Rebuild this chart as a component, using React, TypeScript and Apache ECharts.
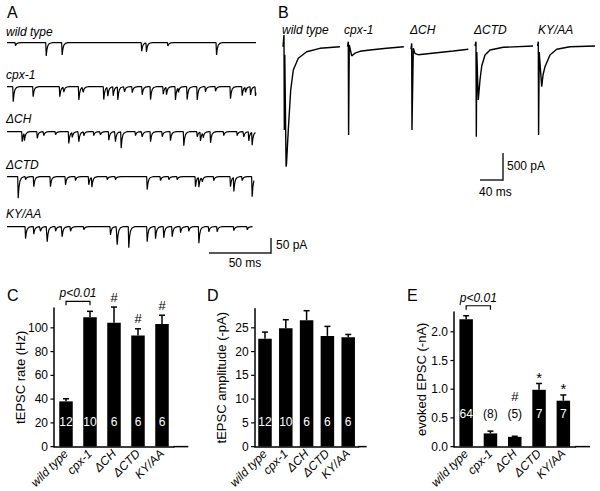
import React, { useEffect, useRef } from "react";
import * as echarts from "echarts";

const FONT = "'Liberation Sans', Arial, Helvetica, sans-serif";

const genotypes = ["wild type", "cpx-1", "ΔCH", "ΔCTD", "KY/AA"];

// ---- Panel A: spontaneous tEPSC events [time ms, amplitude pA]
const wtMinis = [[6.4, 10], [31.1, 44], [43.9, 41], [107.8, 28], [111.6, 30], [128.8, 11], [167.9, 41]];
const cpxMinis = [[4.6, 50], [20.6, 33], [42.0, 33], [45.2, 17], [57.3, 44], [60.8, 17], [77.3, 43], [80.6, 30], [84.9, 30], [88.6, 43], [94.0, 17], [100.2, 20], [108.2, 27], [114.9, 43], [125.1, 25], [127.7, 25], [134.9, 44], [137.3, 15], [144.3, 43], [152.4, 44], [159.0, 17], [167.1, 15], [179.1, 40], [188.5, 30], [191.2, 17], [195.2, 27], [199.2, 30]];
const dchMinis = [[11.8, 33], [13.6, 25], [23.9, 22], [29.2, 13], [38.6, 10], [49.2, 39], [52.0, 17], [57.3, 33], [61.3, 13], [69.3, 13], [74.7, 10], [81.4, 28], [86.7, 33], [91.3, 55], [102.8, 13], [108.2, 17], [114.9, 33], [124.3, 17], [130.9, 30], [141.6, 47], [152.4, 17], [155.0, 30], [157.2, 17], [163.1, 37], [173.7, 13], [184.5, 13], [189.8, 17], [193.8, 30], [196.5, 43]];
const dctdMinis = [[8.6, 72], [14.5, 10], [21.1, 33], [34.5, 33], [46.6, 27], [54.6, 13], [65.3, 27], [67.8, 33], [80.1, 10], [86.7, 10], [112.2, 43], [122.9, 13], [129.6, 10], [136.3, 10], [151.0, 33], [153.7, 33], [156.4, 15], [165.7, 13], [179.1, 33], [181.8, 47], [188.5, 13], [196.5, 67]];
const kyaaMinis = [[14.5, 40], [21.1, 25], [26.5, 15], [31.9, 50], [38.6, 15], [43.9, 33], [50.6, 15], [61.3, 10], [82.7, 27], [88.1, 60], [97.4, 70], [112.2, 50], [118.9, 40], [125.5, 37], [132.3, 33], [139.0, 20], [145.6, 15], [153.7, 55], [161.7, 17], [168.4, 17], [181.8, 13], [192.5, 10]];
const miniTraceEnds = [200, 200, 200, 198.5, 197.3];

// ---- Panel B: evoked EPSC traces [time ms, current pA]
const wtEvoked = [[0, 0], [1.7, 217], [2.3, -1543], [3.1, -150], [5.4, -2222], [6.2, -2150], [9.2, -1543], [13.4, -802], [17.9, -432], [26.6, -215], [41.2, -93], [64.3, -30], [99, 0]];
const cpxEvoked = [[0, 0], [1.4, 93], [1.9, -1635], [3.1, 31], [7.3, -170], [13, -120], [21.7, -85], [39, -61], [68, -30], [98, 0]];
const dchEvoked = [[0, 0], [1.2, 111], [1.7, -1494], [4, 19], [7, -80], [12.7, -100], [44.7, -63], [73.6, -31], [99.7, 0]];
const dctdEvoked = [[0, 0], [1.7, 80], [2.3, -1680], [3.1, -111], [5.7, -1000], [8.7, -630], [11.7, -370], [17.4, -167], [26.1, -74], [49.2, -24], [101, 0]];
const kyaaEvoked = [[0, 0], [1.4, 80], [1.9, -1648], [3.0, -111], [7.3, -754], [9.6, -537], [13, -383], [21.7, -167], [33.4, -61], [56.5, -13], [100, 0]];

// ---- Panels C, D, E
const rateHz = [38.1, 108.9, 104.2, 93.6, 103.3];
const rateSem = [2.2, 5.0, 13.3, 5.6, 7.3];
const ampPa = [22.7, 24.9, 26.6, 23.3, 23.0];
const ampSem = [1.4, 1.8, 2.0, 2.0, 0.6];
const evokedNa = [2.22, 0.23, 0.17, 0.99, 0.8];
const evokedSem = [0.06, 0.04, 0.01, 0.11, 0.1];
const nCells = ["12", "10", "6", "6", "6"];
const nEvoked = ["64", "(8)", "(5)", "7", "7"];
const rateMarks = ["", "", "#", "#", "#"];
const ampMarks = ["", "", "", "", ""];
const evokedMarks = ["", "", "#", "*", "*"];
const rateTicks = [0, 20, 40, 60, 80, 100];
const ampTicks = [0, 5, 10, 15, 20, 25];
const evokedTicks = [0, 0.5, 1.0, 1.5, 2.0];

// event template (relative time ms, fraction of peak)
const kT = [0, 0.4, 1.0, 1.8, 3.0, 5.0];
const kF = [0, 1, 0.5, 0.2, 0.06, 0];
function kernelAt(dt: number) {
  if (dt <= 0 || dt >= kT[kT.length - 1]) return 0;
  for (let k = 1; k < kT.length; k++) {
    if (dt <= kT[k]) {
      const f = (dt - kT[k - 1]) / (kT[k] - kT[k - 1]);
      return kF[k - 1] + f * (kF[k] - kF[k - 1]);
    }
  }
  return 0;
}
function buildTrace(events: number[][], end: number) {
  const ts = new Set<number>([0, end]);
  events.forEach(([t0]) => kT.forEach((k) => {
    const t = +(t0 + k).toFixed(3);
    if (t >= 0 && t <= end) ts.add(t);
  }));
  return [...ts].sort((a, b) => a - b).map((t) => [t, -events.reduce((s, [t0, a]) => s + a * kernelAt(t - t0), 0)]);
}

type Panel = {
  left: number; top: number; width: number; height: number; max: number; interval: number;
  ticks: number[]; vals: number[]; sem: number[]; n: string[]; marks: string[]; name: string;
  titleX: number; dist: number; fmt: (v: number) => string; bracket: boolean; extendTo: number;
};

const panels: Panel[] = [
  { left: 54, top: 308, width: 120, height: 140, max: 116.7, interval: 20, ticks: rateTicks, vals: rateHz, sem: rateSem, n: nCells, marks: rateMarks, name: "tEPSC rate (Hz)", titleX: 20, dist: 19, fmt: (v) => String(v), bracket: true, extendTo: 188.3 },
  { left: 254.6, top: 308.8, width: 104, height: 139.2, max: 29, interval: 5, ticks: ampTicks, vals: ampPa, sem: ampSem, n: nCells, marks: ampMarks, name: "tEPSC amplitude (-pA)", titleX: 221, dist: 19, fmt: (v) => String(v), bracket: false, extendTo: 366.7 },
  { left: 454, top: 312, width: 121.5, height: 136, max: 2.345, interval: 0.5, ticks: evokedTicks, vals: evokedNa, sem: evokedSem, n: nEvoked, marks: evokedMarks, name: "evoked EPSC (-nA)", titleX: 421, dist: 27, fmt: (v) => v.toFixed(1), bracket: true, extendTo: 590 },
];

function barOption(p: Panel) {
  const series: any[] = [];
  series.push({
    type: "custom", clip: false, z: 4, silent: true,
    data: [0],
    renderItem: (params: any, api: any) => {
      const bottom = api.coord([0, 0])[1];
      const mid = (bottom + api.coord([0, p.max])[1]) / 2;
      return { type: "text", x: p.titleX, y: mid, rotation: Math.PI / 2, style: { text: p.name, align: "center", verticalAlign: "middle", fontSize: 13, fontFamily: FONT, fill: "#000" } };
    },
  });
  series.push({
    type: "bar", barWidth: 13.5,
    itemStyle: { color: "#000" },
    data: p.vals,
    label: {
      show: true, position: "insideBottom", distance: p.dist,
      formatter: (q: any) => (q.value / p.max > 0.3 ? "{w|" : "{b|") + p.n[q.dataIndex] + "}",
      rich: {
        w: { color: "#fff", fontSize: 12, fontFamily: FONT },
        b: { color: "#000", fontSize: 12, fontFamily: FONT },
      },
    },
  });
  series.push({
    type: "custom", clip: false, z: 3,
    data: p.vals.map((v, i) => [i, v, p.sem[i]]),
    renderItem: (params: any, api: any) => {
      const i = api.value(0), v = api.value(1), e = api.value(2);
      const b = api.coord([i, v]);
      const t = api.coord([i, v + e]);
      const zero = api.coord([i, 0]);
      const children: any[] = [
        { type: "line", shape: { x1: b[0], y1: b[1], x2: t[0], y2: t[1] }, style: { stroke: "#000", lineWidth: 1.5 } },
        { type: "line", shape: { x1: t[0] - 3, y1: t[1], x2: t[0] + 3, y2: t[1] }, style: { stroke: "#000", lineWidth: 1.5 } },
      ];
      const mark = p.marks[i];
      if (mark) {
        const labelAbove = v / p.max <= 0.3;
        const y = labelAbove ? zero[1] - p.dist - 6 - 17 : t[1] - (mark === "*" ? 6 : 10);
        children.push({ type: "text", x: t[0], y, style: { text: mark, align: "center", verticalAlign: "middle", fontSize: mark === "*" ? 15 : 13, fontFamily: FONT, fill: "#000" } });
      }
      return { type: "group", children };
    },
  });
  if (p.bracket) {
    series.push({
      type: "custom", clip: false, z: 3,
      data: [[0, 1]],
      renderItem: (params: any, api: any) => {
        const a = api.coord([0, p.vals[0] + p.sem[0]]);
        const c = api.coord([1, p.vals[1] + p.sem[1]]);
        const y = Math.min(a[1], c[1]) - 10;
        return {
          type: "group", children: [
            { type: "polyline", shape: { points: [[a[0], y + 4], [a[0], y], [c[0], y], [c[0], y + 4]] }, style: { stroke: "#000", lineWidth: 1.2, fill: "none" } },
            { type: "text", x: (a[0] + c[0]) / 2, y: y - 8, style: { text: "p<0.01", align: "center", verticalAlign: "middle", fontSize: 12, fontStyle: "italic", fontFamily: FONT, fill: "#000" } },
          ],
        };
      },
    });
  }
  return {
    animation: false,
    textStyle: { fontFamily: FONT },
    grid: { left: p.left, top: p.top, width: p.width, height: p.height },
    xAxis: {
      type: "category", data: genotypes,
      axisLine: { lineStyle: { color: "#000", width: 1.5 } },
      axisTick: { show: false },
      axisLabel: { interval: 0, rotate: 45, fontStyle: "italic", fontSize: 12, color: "#000", fontFamily: FONT, margin: 5 },
    },
    yAxis: {
      type: "value", min: 0, max: p.max, interval: p.interval,
      axisLine: { show: true, lineStyle: { color: "#000", width: 1.5 } },
      axisTick: { show: false },
      axisLabel: { show: false },
      splitLine: { show: false },
    },
    series,
  };
}

// tick marks, tick labels and axis extension placed through the chart's own y scale
function tickGraphic(chart: any, p: Panel) {
  const els: any[] = [];
  p.ticks.forEach((t) => {
    const y = chart.convertToPixel({ yAxisIndex: 0 }, t);
    els.push({ type: "line", shape: { x1: p.left - 3.5, y1: y, x2: p.left, y2: y }, style: { stroke: "#000", lineWidth: 1.2 } });
    els.push({ type: "text", x: p.left - 6, y, style: { text: p.fmt(t), align: "right", verticalAlign: "middle", fontSize: 12, fontFamily: FONT, fill: "#000" } });
  });
  const y0 = chart.convertToPixel({ yAxisIndex: 0 }, 0);
  els.push({ type: "line", shape: { x1: p.left + p.width - 0.5, y1: y0, x2: p.extendTo, y2: y0 }, style: { stroke: "#000", lineWidth: 1.5 } });
  return els;
}

function tracesOption() {
  const grids: any[] = [];
  const xAxes: any[] = [];
  const yAxes: any[] = [];
  const series: any[] = [];
  const aMinis = [wtMinis, cpxMinis, dchMinis, dctdMinis, kyaaMinis];
  const aBase = [42.7, 86.7, 131.7, 176.7, 226.7];
  aMinis.forEach((ev, i) => {
    const gi = grids.length;
    grids.push({ left: 7, top: aBase[i] - 3, width: 249, height: 27 });
    xAxes.push({ type: "value", gridIndex: gi, min: 0, max: 200, show: false });
    yAxes.push({ type: "value", gridIndex: gi, min: -80, max: 10, show: false });
    series.push({ type: "line", xAxisIndex: gi, yAxisIndex: gi, data: buildTrace(ev, miniTraceEnds[i]), symbol: "none", lineStyle: { color: "#000", width: 1.2 }, clip: false });
  });
  const bTraces = [wtEvoked, cpxEvoked, dchEvoked, dctdEvoked, kyaaEvoked];
  const bLeft = [283, 347.5, 411, 475, 537.5];
  const bBase = [46.7, 46.7, 49.3, 46, 46];
  bTraces.forEach((tr, i) => {
    const gi = grids.length;
    grids.push({ left: bLeft[i], top: bBase[i] - 16.2, width: 57.5, height: 145.8 });
    xAxes.push({ type: "value", gridIndex: gi, min: 0, max: 100, show: false });
    yAxes.push({ type: "value", gridIndex: gi, min: -2400, max: 300, show: false });
    series.push({ type: "line", xAxisIndex: gi, yAxisIndex: gi, data: tr, symbol: "none", lineStyle: { color: "#000", width: 1.4 }, clip: false });
  });

  const txt = (x: number, y: number, text: string, extra: any = {}) => ({
    type: "text", x, y, style: { text, fontSize: 12, fontFamily: FONT, fill: "#000", align: "left", verticalAlign: "middle", ...extra },
  });
  const ln = (x1: number, y1: number, x2: number, y2: number) => ({
    type: "line", shape: { x1, y1, x2, y2 }, style: { stroke: "#222", lineWidth: 1.5 },
  });
  const graphic: any[] = [
    txt(7, 12, "A", { fontSize: 16 }),
    txt(278, 12, "B", { fontSize: 16 }),
    txt(7, 295, "C", { fontSize: 16 }),
    txt(207, 295, "D", { fontSize: 16 }),
    txt(407, 295, "E", { fontSize: 16 }),
    txt(6, 32, genotypes[0], { fontStyle: "italic" }),
    txt(6, 75, genotypes[1], { fontStyle: "italic" }),
    txt(6, 119, genotypes[2], { fontStyle: "italic" }),
    txt(6, 165, genotypes[3], { fontStyle: "italic" }),
    txt(6, 214, genotypes[4], { fontStyle: "italic" }),
    txt(282, 30, genotypes[0], { fontStyle: "italic" }),
    txt(344, 30, genotypes[1], { fontStyle: "italic" }),
    txt(410, 30, genotypes[2], { fontStyle: "italic" }),
    txt(474, 30, genotypes[3], { fontStyle: "italic" }),
    txt(538, 30, genotypes[4], { fontStyle: "italic" }),
    ln(209, 253, 271, 253),
    ln(271, 238, 271, 253.7),
    txt(276, 245, "50 pA"),
    txt(245, 263, "50 ms", { align: "center" }),
    ln(480, 180, 503, 180),
    ln(503, 153, 503, 180.7),
    txt(507, 166, "500 pA"),
    txt(479, 192, "40 ms"),
  ];
  return {
    animation: false,
    backgroundColor: "#fff",
    textStyle: { fontFamily: FONT },
    grid: grids,
    xAxis: xAxes,
    yAxis: yAxes,
    series,
    graphic,
  };
}

const layerStyle: React.CSSProperties = { position: "absolute", left: 0, top: 0, width: 600, height: 491 };

export default function App() {
  const r0 = useRef<HTMLDivElement>(null);
  const r1 = useRef<HTMLDivElement>(null);
  const r2 = useRef<HTMLDivElement>(null);
  const r3 = useRef<HTMLDivElement>(null);
  useEffect(() => {
    const refs = [r0, r1, r2, r3];
    const charts = refs.map((r) => echarts.init(r.current as HTMLDivElement, undefined, { renderer: "svg" }));
    charts[0].setOption(tracesOption());
    panels.forEach((p, i) => {
      const c = charts[i + 1];
      c.setOption(barOption(p));
      try {
        c.setOption({ graphic: tickGraphic(c, p) });
      } catch (e) {
        // keep the chart even if the tick overlay fails
      }
    });
    return () => charts.forEach((c) => c.dispose());
  }, []);
  return (
    <div style={layerStyle}>
      <div ref={r0} style={layerStyle} />
      <div ref={r1} style={layerStyle} />
      <div ref={r2} style={layerStyle} />
      <div ref={r3} style={layerStyle} />
    </div>
  );
}
